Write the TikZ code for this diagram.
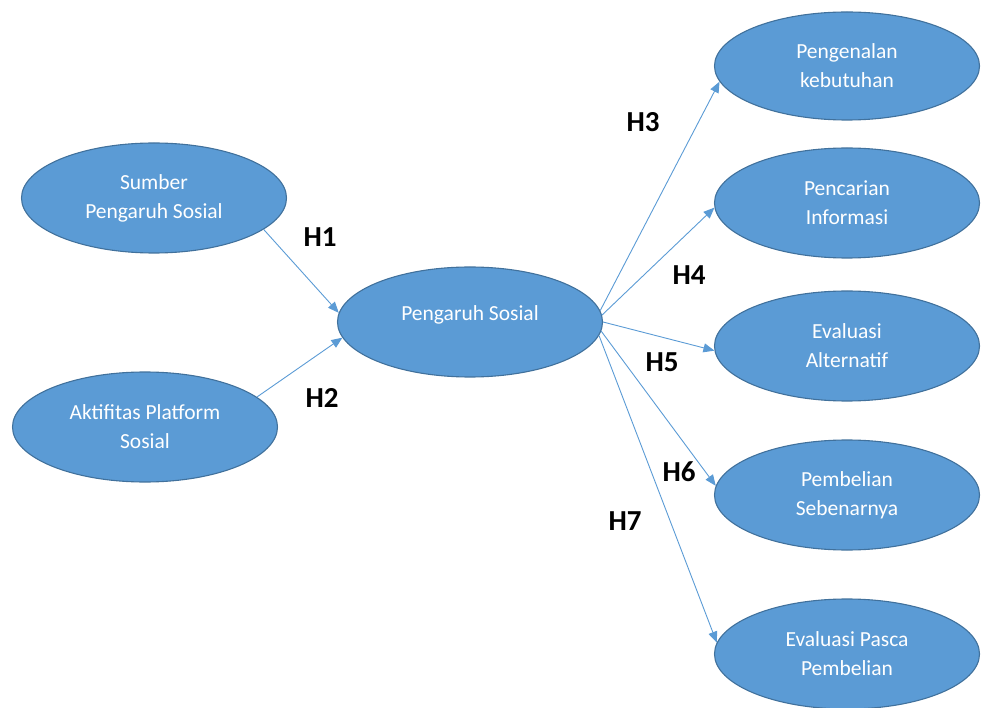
\documentclass[tikz,border=0pt]{standalone}
\usepackage{fontspec}
\setmainfont{Carlito}
\usetikzlibrary{shapes.geometric,arrows.meta}
\definecolor{ofill}{HTML}{5B9BD5}
\definecolor{oborder}{HTML}{41719C}
\definecolor{oarrow}{HTML}{5B9BD5}
\tikzset{
  oval/.style={ellipse, draw=oborder, line width=1.1pt, fill=ofill, text=white,
    minimum width=265pt, minimum height=110pt, inner sep=0pt, align=center,
    font=\fontsize{21.5}{29}\selectfont},
  conn/.style={draw=oarrow, line width=0.9pt,
    -{Triangle[length=11pt,width=9pt]}},
  hlabel/.style={font=\fontsize{29}{32}\selectfont\bfseries, text=black, inner sep=0pt}
}
\begin{document}
\begin{tikzpicture}[x=1pt,y=-1pt]
\useasboundingbox (0,0) rectangle (985,708);
\clip (0,0) rectangle (985,708);
\node[oval] (s) at (154,198) {Sumber\\Pengaruh Sosial};
\node[oval] (a) at (145,427) {Aktifitas Platform\\Sosial};
\node[oval, text height=10pt, text depth=12pt] (p) at (470,322) {Pengaruh Sosial};
\node[oval, minimum height=108pt] (t1) at (847,66) {Pengenalan\\kebutuhan};
\node[oval] (t2) at (847,203) {Pencarian\\Informasi};
\node[oval] (t3) at (847,346) {Evaluasi\\Alternatif};
\node[oval] (t4) at (847,495) {Pembelian\\Sebenarnya};
\node[oval] (t5) at (847,654) {Evaluasi Pasca\\Pembelian};

\draw[conn] (s.-16) -- (p.176);
\draw[conn] (a.15) -- (p.187);
\draw[conn] (p.5) -- (t1.187);
\draw[conn] (p.3) -- (t2.182);
\draw[conn] (p.0) -- (t3.182);
\draw[conn] (p.-4) -- (t4.176);
\draw[conn] (p.-6) -- (t5.175);

\node[hlabel] (h1) at (320,237) {H1};
\node[hlabel] (h2) at (322,398) {H2};
\node[hlabel] (h3) at (643,122) {H3};
\node[hlabel] (h4) at (689,275) {H4};
\node[hlabel] (h5) at (662,362) {H5};
\node[hlabel] (h6) at (679,472) {H6};
\node[hlabel] (h7) at (625,521) {H7};
\end{tikzpicture}
\end{document}
